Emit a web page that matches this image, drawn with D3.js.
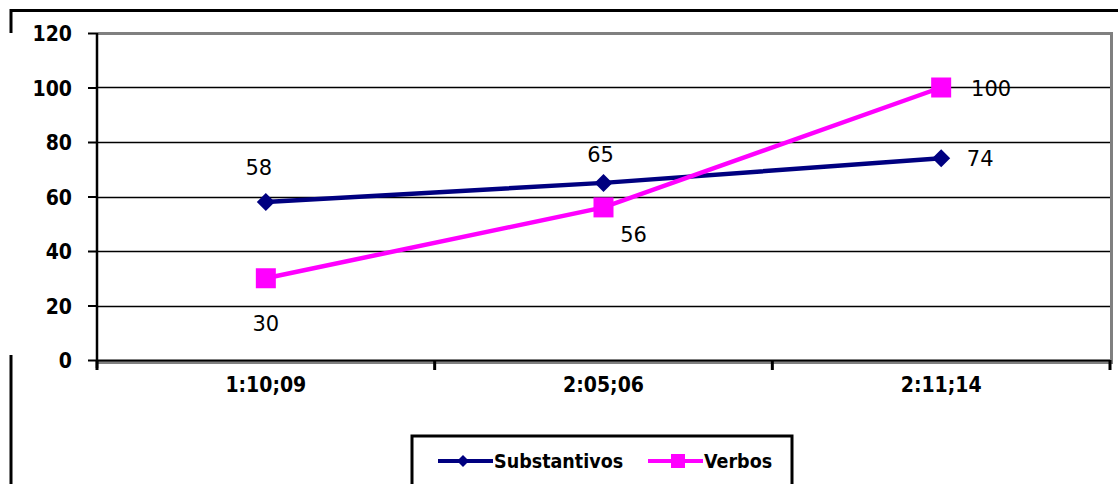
<!DOCTYPE html>
<html><head><meta charset="utf-8">
<script src="https://cdn.jsdelivr.net/npm/d3@7"></script>
<style>body{margin:0;background:#fff}svg{display:block}</style>
</head><body>
<svg id="c" width="1118" height="484"></svg>
<script>
const categories = ["1:10;09", "2:05;06", "2:11;14"];
const substantivos = [58, 65, 74];
const verbos = [30, 56, 100];
const yTicks = [0, 20, 40, 60, 80, 100, 120];
const seriesNames = ["Substantivos", "Verbos"];

const svg = d3.select("#c");
const W = 1118, H = 484;
const L = 97, R = 1110, T = 33, B = 360;

const x = d3.scaleBand().domain(categories).range([L, R]);
const y = d3.scaleLinear().domain([0, 120]).range([B, T]);

// outer chart border (partial, as in the picture)
svg.append("line").attr("x1", 10.5).attr("x2", W).attr("y1", 10.5).attr("y2", 10.5).attr("stroke", "#000").attr("stroke-width", 3);
svg.append("line").attr("x1", 11).attr("x2", 11).attr("y1", 9).attr("y2", 33).attr("stroke", "#000").attr("stroke-width", 3);
svg.append("line").attr("x1", 11).attr("x2", 11).attr("y1", 355).attr("y2", H).attr("stroke", "#000").attr("stroke-width", 3);

// gridlines
svg.append("g").selectAll("line").data(yTicks.filter(d => d > 0 && d < 120)).join("line")
  .attr("x1", L).attr("x2", R).attr("y1", d => Math.round(y(d)) + 0.5).attr("y2", d => Math.round(y(d)) + 0.5)
  .attr("stroke", "#000").attr("stroke-width", 1.3);

// plot area border (gray)
svg.append("path").attr("d", `M${L},${T + 0.5}H${R + 1.5}V${B + 2}`).attr("fill", "none").attr("stroke", "#808080").attr("stroke-width", 3);
svg.append("line").attr("x1", L).attr("x2", R + 3).attr("y1", B + 2.5).attr("y2", B + 2.5).attr("stroke", "#808080").attr("stroke-width", 3);

// y axis
const yAxis = d3.axisLeft(y).tickValues(yTicks).tickSize(9).tickPadding(16);
const gy = svg.append("g").attr("transform", `translate(${L},0)`).call(yAxis);
gy.select(".domain").attr("stroke", "#000").attr("stroke-width", 2.5).attr("d", `M0,${T}V${B + 8}`);
gy.selectAll(".tick line").attr("stroke", "#000").attr("stroke-width", 2);
gy.selectAll(".tick text").attr("font-family", "DejaVu Sans Condensed, DejaVu Sans, sans-serif")
  .attr("font-size", 21).attr("fill", "#000").attr("font-weight", "bold").attr("dy", "0.36em");

// x axis
const xTickPos = [L, ...categories.slice(1).map(c => x(c)), R];
svg.append("line").attr("x1", L).attr("x2", R).attr("y1", B + 0.5).attr("y2", B + 0.5).attr("stroke", "#000").attr("stroke-width", 2);
svg.append("g").selectAll("line").data(xTickPos).join("line")
  .attr("x1", d => d).attr("x2", d => d).attr("y1", B).attr("y2", B + 10)
  .attr("stroke", "#000").attr("stroke-width", 3);
svg.append("g").selectAll("text").data(categories).join("text")
  .attr("x", d => x(d) + x.bandwidth() / 2).attr("y", 392)
  .attr("text-anchor", "middle").attr("font-family", "DejaVu Sans Condensed, DejaVu Sans, sans-serif")
  .attr("font-weight", "bold").attr("font-size", 21).attr("fill", "#000").text(d => d);

const cx = c => x(c) + x.bandwidth() / 2;
const line = d3.line().x((d, i) => cx(categories[i])).y(d => y(d));

// series
const navy = "#000080", magenta = "#ff00ff";
svg.append("path").datum(substantivos).attr("d", line).attr("fill", "none").attr("stroke", navy).attr("stroke-width", 4.5);
svg.append("path").datum(verbos).attr("d", line).attr("fill", "none").attr("stroke", magenta).attr("stroke-width", 4.5);

const diamond = (s) => `M0,${-s}L${s},0L0,${s}L${-s},0Z`;
svg.append("g").selectAll("path").data(substantivos).join("path")
  .attr("transform", (d, i) => `translate(${cx(categories[i])},${y(d)})`)
  .attr("d", diamond(9)).attr("fill", navy);
svg.append("g").selectAll("rect").data(verbos).join("rect")
  .attr("x", (d, i) => cx(categories[i]) - 10).attr("y", d => y(d) - 10)
  .attr("width", 20).attr("height", 20).attr("fill", magenta);

// data labels
const labelFont = "DejaVu Sans, Verdana, sans-serif";
const subLabelPos = [[-7, -27], [-3, -21], [39, 8]];
const verbLabelPos = [[0, 53], [30, 35], [50, 8]];
svg.append("g").selectAll("text").data(substantivos).join("text")
  .attr("x", (d, i) => cx(categories[i]) + subLabelPos[i][0])
  .attr("y", (d, i) => y(d) + subLabelPos[i][1])
  .attr("text-anchor", "middle").attr("font-family", labelFont).attr("font-size", 21).attr("fill", "#000").text(d => d);
svg.append("g").selectAll("text").data(verbos).join("text")
  .attr("x", (d, i) => cx(categories[i]) + verbLabelPos[i][0])
  .attr("y", (d, i) => y(d) + verbLabelPos[i][1])
  .attr("text-anchor", "middle").attr("font-family", labelFont).attr("font-size", 21).attr("fill", "#000").text(d => d);

// legend
const lg = svg.append("g");
lg.append("rect").attr("x", 412).attr("y", 436).attr("width", 380).attr("height", 60)
  .attr("fill", "#fff").attr("stroke", "#000").attr("stroke-width", 3);
const legendItems = [
  { name: seriesNames[0], color: navy, x0: 438, shape: "diamond" },
  { name: seriesNames[1], color: magenta, x0: 648, shape: "square" }
];
legendItems.forEach(it => {
  const ly = 461;
  lg.append("line").attr("x1", it.x0).attr("x2", it.x0 + 55).attr("y1", ly).attr("y2", ly).attr("stroke", it.color).attr("stroke-width", 4);
  if (it.shape === "diamond") {
    lg.append("path").attr("transform", `translate(${it.x0 + 25},${ly})`).attr("d", diamond(6)).attr("fill", it.color);
  } else {
    lg.append("rect").attr("x", it.x0 + 23).attr("y", ly - 7).attr("width", 14).attr("height", 14).attr("fill", it.color);
  }
  lg.append("text").attr("x", it.x0 + 56).attr("y", ly + 7).attr("font-family", "DejaVu Sans Condensed, sans-serif")
    .attr("font-weight", "bold").attr("font-size", 19.5).attr("fill", "#000").text(it.name);
});
</script>
</body></html>
